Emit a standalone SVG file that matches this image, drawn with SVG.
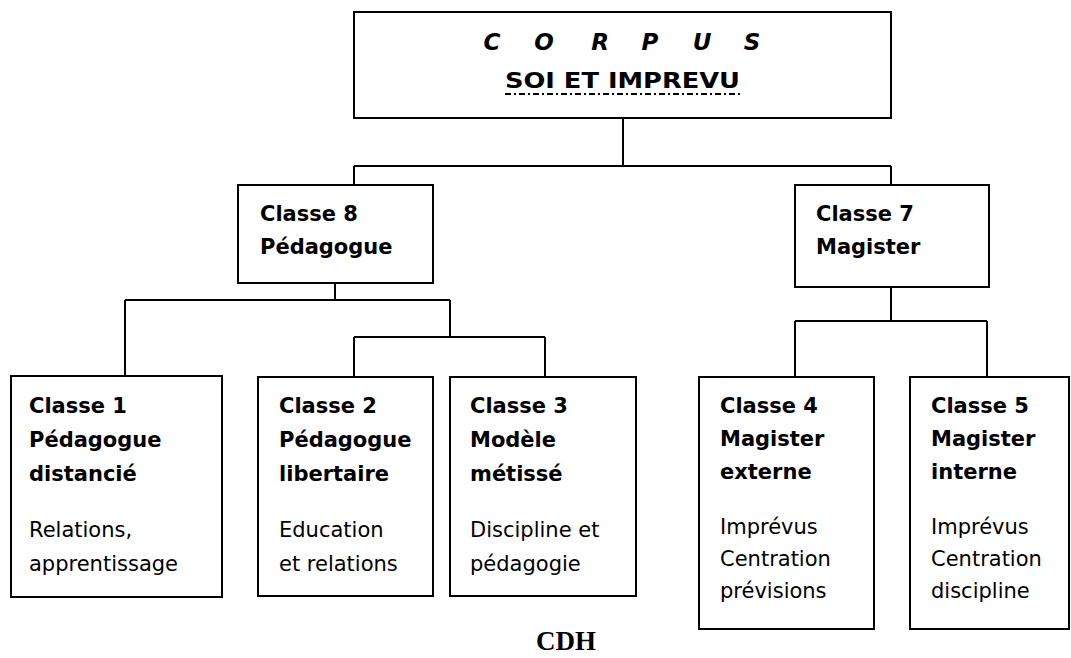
<svg xmlns="http://www.w3.org/2000/svg" width="1071" height="658" viewBox="0 0 1071 658">
<style>
.box{fill:#fff;stroke:#000;stroke-width:2}
.c{fill:none;stroke:#000;stroke-width:2}
.b{font-family:"DejaVu Sans","Open Sans",sans-serif;font-weight:bold;font-size:21px;fill:#000}
.r{font-family:"DejaVu Sans","Open Sans",sans-serif;font-size:21px;fill:#000}
.t{font-family:"DejaVu Sans","Open Sans",sans-serif;font-weight:bold;font-style:italic;font-size:23px;fill:#000;text-anchor:middle}
</style>
<rect width="1071" height="658" fill="#fff"/>
<g id="connectors">
<path class="c" d="M623 118V166M354 166H891M354 166V185M891 166V185"/>
<path class="c" d="M335 283V300M125 300H450M125 300V376M450 300V337M354 337H545M354 337V377M545 337V377"/>
<path class="c" d="M891 287V321M795 321H987M795 321V377M987 321V377"/>
</g>
<g id="corpus">
<rect class="box" x="354" y="12" width="537" height="106"/>
<text class="t" x="492" y="50">C</text>
<text class="t" x="544" y="50">O</text>
<text class="t" x="600" y="50">R</text>
<text class="t" x="650" y="50">P</text>
<text class="t" x="702" y="50">U</text>
<text class="t" x="752" y="50">S</text>
<text class="b" x="505" y="88" font-size="23" textLength="235" lengthAdjust="spacingAndGlyphs">SOI ET IMPREVU</text>
<line x1="505" y1="94" x2="740" y2="94" stroke="#000" stroke-width="2" stroke-dasharray="6 3 2 3"/>
</g>
<g id="classe8">
<rect class="box" x="238" y="185" width="195" height="98"/>
<text class="b" x="260" y="221">Classe 8</text>
<text class="b" x="260" y="254">Pédagogue</text>
</g>
<g id="classe7">
<rect class="box" x="795" y="185" width="194" height="102"/>
<text class="b" x="816" y="221">Classe 7</text>
<text class="b" x="816" y="254">Magister</text>
</g>
<g id="classe1">
<rect class="box" x="11" y="376" width="211" height="221"/>
<text class="b" x="29" y="413">Classe 1</text>
<text class="b" x="29" y="447">Pédagogue</text>
<text class="b" x="29" y="481">distancié</text>
<text class="r" x="29" y="537">Relations,</text>
<text class="r" x="29" y="571">apprentissage</text>
</g>
<g id="classe2">
<rect class="box" x="258" y="377" width="175" height="219"/>
<text class="b" x="279" y="413">Classe 2</text>
<text class="b" x="279" y="447">Pédagogue</text>
<text class="b" x="279" y="481">libertaire</text>
<text class="r" x="279" y="537">Education</text>
<text class="r" x="279" y="571">et relations</text>
</g>
<g id="classe3">
<rect class="box" x="450" y="377" width="186" height="219"/>
<text class="b" x="470" y="413">Classe 3</text>
<text class="b" x="470" y="447">Modèle</text>
<text class="b" x="470" y="481">métissé</text>
<text class="r" x="470" y="537">Discipline et</text>
<text class="r" x="470" y="571">pédagogie</text>
</g>
<g id="classe4">
<rect class="box" x="699" y="377" width="175" height="252"/>
<text class="b" x="720" y="413">Classe 4</text>
<text class="b" x="720" y="446">Magister</text>
<text class="b" x="720" y="479">externe</text>
<text class="r" x="720" y="534">Imprévus</text>
<text class="r" x="720" y="566">Centration</text>
<text class="r" x="720" y="598">prévisions</text>
</g>
<g id="classe5">
<rect class="box" x="910" y="377" width="159" height="252"/>
<text class="b" x="931" y="413">Classe 5</text>
<text class="b" x="931" y="446">Magister</text>
<text class="b" x="931" y="479">interne</text>
<text class="r" x="931" y="534">Imprévus</text>
<text class="r" x="931" y="566">Centration</text>
<text class="r" x="931" y="598">discipline</text>
</g>
<text x="566" y="650" font-family="'Liberation Serif',serif" font-weight="bold" font-size="27" text-anchor="middle">CDH</text>
</svg>
